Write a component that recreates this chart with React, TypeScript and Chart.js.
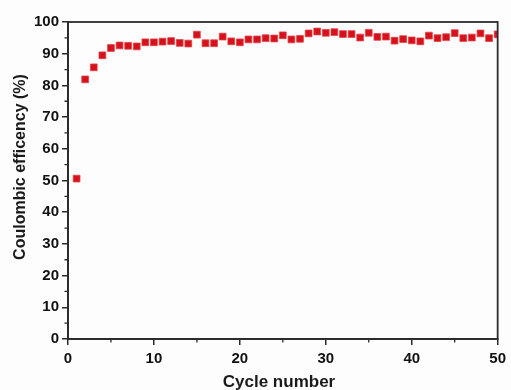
import React, { useEffect, useRef } from "react";
import { Chart, registerables } from "chart.js";

Chart.register(...registerables);

const cycles: number[] = [
  1, 2, 3, 4, 5, 6, 7, 8, 9, 10,
  11, 12, 13, 14, 15, 16, 17, 18, 19, 20,
  21, 22, 23, 24, 25, 26, 27, 28, 29, 30,
  31, 32, 33, 34, 35, 36, 37, 38, 39, 40,
  41, 42, 43, 44, 45, 46, 47, 48, 49, 50,
];
const efficiency: number[] = [
  50.6, 81.9, 85.7, 89.5, 91.8, 92.6, 92.5, 92.3, 93.6, 93.6,
  93.8, 94.0, 93.4, 93.2, 96.0, 93.3, 93.3, 95.4, 93.9, 93.6,
  94.5, 94.5, 94.9, 94.8, 95.8, 94.5, 94.7, 96.4, 97.0, 96.6,
  96.8, 96.2, 96.2, 95.1, 96.6, 95.3, 95.4, 94.1, 94.6, 94.2,
  93.9, 95.7, 94.9, 95.2, 96.5, 94.9, 95.1, 96.4, 94.9, 96.1,
];
const xTicks: number[] = [0, 10, 20, 30, 40, 50];
const yTicks: number[] = [0, 10, 20, 30, 40, 50, 60, 70, 80, 90, 100];
const xMinor: number[] = [5, 15, 25, 35, 45];
const yMinor: number[] = [5, 15, 25, 35, 45, 55, 65, 75, 85, 95];
const xTitle = "Cycle number";
const yTitle = "Coulombic efficency (%)";

const FONT = "'Liberation Sans', Arial, sans-serif";
const AXIS = "#2b2b2b";

const framePlugin = {
  id: "frame",
  afterDraw(chart: any) {
    const { ctx, chartArea } = chart;
    const xs = chart.scales.x;
    const ys = chart.scales.y;
    ctx.save();
    ctx.strokeStyle = AXIS;
    ctx.lineWidth = 1.8;
    ctx.strokeRect(chartArea.left, chartArea.top, chartArea.right - chartArea.left, chartArea.bottom - chartArea.top);
    ctx.lineWidth = 1.3;
    ctx.beginPath();
    xMinor.forEach((v) => {
      const px = xs.getPixelForValue(v);
      ctx.moveTo(px, chartArea.bottom);
      ctx.lineTo(px, chartArea.bottom + 3.5);
    });
    yMinor.forEach((v) => {
      const py = ys.getPixelForValue(v);
      ctx.moveTo(chartArea.left, py);
      ctx.lineTo(chartArea.left - 3.5, py);
    });
    ctx.stroke();
    ctx.fillStyle = "#1a1a1a";
    ctx.textAlign = "center";
    ctx.textBaseline = "alphabetic";
    ctx.font = `bold 17px ${FONT}`;
    ctx.fillText(xTitle, 279, 387);
    ctx.font = `bold 16px ${FONT}`;
    ctx.translate(25, 167);
    ctx.rotate(-Math.PI / 2);
    ctx.fillText(yTitle, 0, 0);
    ctx.restore();
  },
};

export default function App() {
  const ref = useRef<HTMLCanvasElement | null>(null);
  useEffect(() => {
    if (!ref.current) return;
    const chart = new Chart(ref.current, {
      type: "scatter",
      data: {
        datasets: [
          {
            data: cycles.map((c, i) => ({ x: c, y: efficiency[i] })),
            pointStyle: "rect",
            pointRadius: 4.8,
            backgroundColor: "#d5121b",
            borderColor: "#e2454a",
            borderWidth: 0.8,
            clip: 0,
          } as any,
        ],
      },
      plugins: [framePlugin],
      options: {
        animation: false,
        responsive: false,
        devicePixelRatio: 1,
        layout: { padding: { top: 22, right: 10, left: 0, bottom: 0 } },
        plugins: { legend: { display: false }, tooltip: { enabled: false } },
        scales: {
          x: {
            type: "linear",
            min: 0,
            max: 50,
            afterBuildTicks: (s: any) => {
              s.ticks = xTicks.map((v) => ({ value: v }));
            },
            afterFit: (s: any) => {
              s.height = 51;
            },
            grid: { drawOnChartArea: false, drawTicks: true, tickLength: 6, color: AXIS, lineWidth: 1.5 },
            border: { display: true, color: AXIS, width: 1.8 },
            ticks: {
              autoSkip: false,
              maxRotation: 0,
              padding: 5,
              color: "#111",
              font: { family: FONT, size: 15, weight: "bold" },
            },
          },
          y: {
            type: "linear",
            min: 0,
            max: 100,
            afterBuildTicks: (s: any) => {
              s.ticks = yTicks.map((v) => ({ value: v }));
            },
            afterFit: (s: any) => {
              s.width = 68;
            },
            grid: { drawOnChartArea: false, drawTicks: true, tickLength: 6, color: AXIS, lineWidth: 1.5 },
            border: { display: true, color: AXIS, width: 1.8 },
            ticks: {
              autoSkip: false,
              padding: 3,
              color: "#111",
              font: { family: FONT, size: 15, weight: "bold" },
            },
          },
        },
      },
    });
    return () => chart.destroy();
  }, []);
  return (
    <div style={{ position: "fixed", left: 0, top: 0, width: 511, height: 390, background: "#fdfdfd" }}>
      <canvas ref={ref} width={511} height={390} style={{ width: 511, height: 390, display: "block" }} />
    </div>
  );
}
